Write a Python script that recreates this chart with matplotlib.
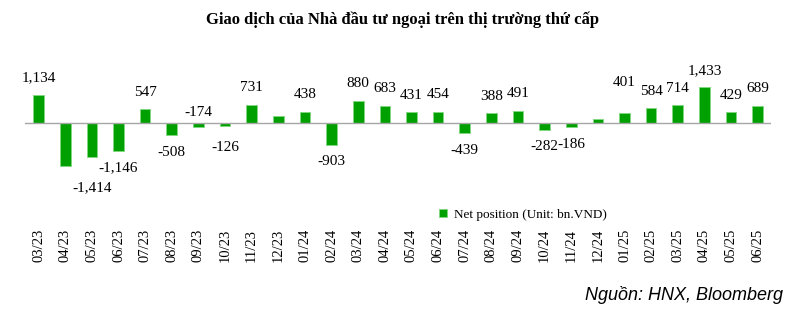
import matplotlib

matplotlib.use("Agg")
import matplotlib.pyplot as plt
import numpy as np

months = ["03/23", "04/23", "05/23", "06/23", "07/23", "08/23", "09/23", "10/23",
          "11/23", "12/23", "01/24", "02/24", "03/24", "04/24", "05/24", "06/24",
          "07/24", "08/24", "09/24", "10/24", "11/24", "12/24", "01/25", "02/25",
          "03/25", "04/25", "05/25", "06/25"]
net_position = [1134, -1750, -1414, -1146, 547, -508, -174, -126,
                731, 260, 438, -903, 880, 683, 431, 454,
                -439, 388, 491, -282, -186, 160, 401, 584,
                714, 1433, 429, 689]
# months whose value has no label in the source chart
unlabeled = {"04/23", "12/23", "12/24"}

# label nudges (points from bar end) where the source deviates from default
label_shift = {"05/23": 21.5, "01/25": 21.5, "10/23": 15.5}

GREEN = "#00a000"
SERIF = "Liberation Serif"

fig = plt.figure(figsize=(8.02, 3.24), dpi=100)
W, H = 802, 324
top_px, bot_px, left_px, right_px = 60, 222, 25.3, 771
ax = fig.add_axes([left_px / W, 1 - bot_px / H, (right_px - left_px) / W, (bot_px - top_px) / H])

x = np.arange(len(months))
ax.bar(x, net_position, width=0.4, color=GREEN, edgecolor="#7fd87f", linewidth=0.6,
       label="Net position (Unit: bn.VND)", zorder=2)
ax.axhline(0, color="#a6a6a6", lw=1.0, zorder=3)

units_per_px = 1000 / 24.6
base_px = 122.7
ax.set_ylim(-(bot_px - base_px) * units_per_px, (base_px - top_px) * units_per_px)
ax.set_xlim(-0.5, len(months) - 0.5)

for xi, m, v in zip(x, months, net_position):
    if m in unlabeled:
        continue
    off = label_shift.get(m, 12.3)
    if m == "09/23":
        y0, dy = 0, 7.0
    elif v >= 0:
        y0, dy = v, off
    else:
        y0, dy = v, -off
    ax.annotate(f"{v:,}", (xi, y0), xytext=(0, dy), textcoords="offset points",
                ha="center", va="center", fontsize=11, family=SERIF)

ax.set_xticks(x)
ax.set_xticklabels(months, rotation=90, fontsize=10.5, family=SERIF)
ax.tick_params(axis="x", length=0, pad=5)
ax.set_yticks([])
for s in ax.spines.values():
    s.set_visible(False)

leg = ax.legend(loc="center", bbox_to_anchor=(0.667, 0.045), frameon=False,
                prop={"family": SERIF, "size": 9.5}, handlelength=0.6,
                handleheight=0.6, handletextpad=0.5)

fig.text(402 / W, 1 - 20 / H, "Giao dịch của Nhà đầu tư ngoại trên thị trường thứ cấp",
         ha="center", va="center", fontsize=12, fontweight="bold", family=SERIF)
fig.text(783 / W, 1 - 295 / H, "Nguồn: HNX, Bloomberg", ha="right", va="center",
         fontsize=13, style="italic", family="Liberation Sans")

fig.savefig("out.png", dpi=100)
plt.close(fig)
